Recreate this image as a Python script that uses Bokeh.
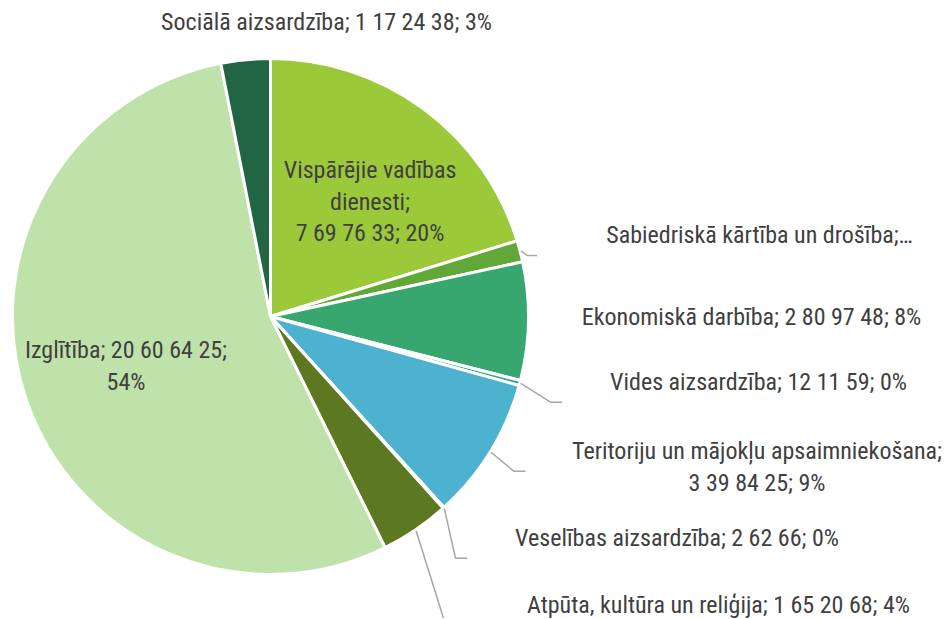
import math
from bokeh.plotting import figure
from bokeh.models import Range1d, ColumnDataSource
from bokeh.core.properties import value
from bokeh.embed import file_html
from bokeh.resources import INLINE

# ---- data (clockwise from 12 o'clock) ----
categories = [
    "Vispārējie vadības dienesti",
    "Sabiedriskā kārtība un drošība",
    "Ekonomiskā darbība",
    "Vides aizsardzība",
    "Teritoriju un mājokļu apsaimniekošana",
    "Veselības aizsardzība",
    "Atpūta, kultūra un reliģija",
    "Izglītība",
    "Sociālā aizsardzība",
]
amounts = [7697633, 507000, 2809748, 121159, 3398425, 26266, 1652068, 20606425, 1172438]
percent_labels = ["20%", "", "8%", "0%", "9%", "0%", "4%", "54%", "3%"]
colors = ["#9BC93A", "#62A839", "#38A76F", "#35A58C", "#4DB2D0", "#6E8F2E", "#5C7921", "#BFE2AA", "#216545"]

W, H = 946, 618
PAGE_H = 619
FONT = "Roboto Condensed"
TXT = "#404040"
BASE_FIX = 9  # renderer places alphabetic baseline slightly lower


def py(y):  # page y -> data y
    return PAGE_H - y


def grp(n):
    s = str(n)
    parts = []
    while len(s) > 2:
        parts.insert(0, s[-2:])
        s = s[:-2]
    parts.insert(0, s)
    return " ".join(parts)


p = figure(width=W, height=H, x_range=Range1d(0, W), y_range=Range1d(PAGE_H - H, PAGE_H),
           output_backend="svg", toolbar_location=None, min_border=0)
p.axis.visible = False
p.grid.visible = False
p.outline_line_color = None
p.background_fill_color = "white"

cx, cy, R = 270, py(316), 258
total = sum(amounts)
starts, ends, mids = [], [], []
acc = 0.0
for a in amounts:
    s = math.pi / 2 - acc / total * 2 * math.pi
    acc += a
    e = math.pi / 2 - acc / total * 2 * math.pi
    starts.append(s)
    ends.append(e)
    mids.append((s + e) / 2)

src = ColumnDataSource(dict(start=starts, end=ends, color=colors, cat=categories))
p.wedge(x=cx, y=cy, radius=R, start_angle="start", end_angle="end", direction="clock",
        fill_color="color", line_color="white", line_width=3, source=src)

# ---- leader lines (start on slice edge at mid-angle) ----
leader_idx = [1, 3, 4, 5, 6]
leader_tail = {  # elbow and end, page coords (layout)
    1: [(526.7, 255), (536.7, 255)],
    3: [(550, 401.7), (561.7, 401.7)],
    4: [(513.3, 470.7), (525, 470.7)],
    5: [(455, 557.7), (466.7, 557.7)],
    6: [(447.5, 632), (460, 632)],
}
xs, ys = [], []
for i in leader_idx:
    x0 = cx + (R + 1) * math.cos(mids[i])
    y0 = cy + (R + 1) * math.sin(mids[i])
    xx = [x0] + [t[0] for t in leader_tail[i]]
    yy = [y0] + [py(t[1]) for t in leader_tail[i]]
    xs.append(xx)
    ys.append(yy)
p.multi_line(xs=xs, ys=ys, line_color="#A6A6A6", line_width=1.5)

# ---- labels ----
full = [f"{c}; {grp(a)}; {pc}" for c, a, pc in zip(categories, amounts, percent_labels)]
label_lines = {
    0: ["Vispārējie vadības", "dienesti;", f"{grp(amounts[0])}; {percent_labels[0]}"],
    1: [f"{categories[1]};…"],
    2: [full[2]],
    3: [full[3]],
    4: [f"{categories[4]};", f"{grp(amounts[4])}; {percent_labels[4]}"],
    5: [full[5]],
    6: [full[6]],
    7: [f"{categories[7]}; {grp(amounts[7])};", percent_labels[7]],
    8: [full[8]],
}
label_pos = {  # centre x, first baseline y (page coords)
    0: (369.5, 178.5),
    1: (759, 243.5),
    2: (751, 325),
    3: (758, 390),
    4: (756.5, 459.5),
    5: (676.5, 546),
    6: (718, 613.5),
    7: (125.5, 358.5),
    8: (326, 30.5),
}
LINE = 31.5
tx, ty, tt = [], [], []
for i, lines in label_lines.items():
    x, y0 = label_pos[i]
    for k, ln in enumerate(lines):
        tx.append(x)
        ty.append(py(y0 + k * LINE - BASE_FIX))
        tt.append(ln)
p.text(x=tx, y=ty, text=tt, text_font=value(FONT), text_font_size="24px", text_color=TXT,
       text_align="center", text_baseline="alphabetic")

open("out.html", "w").write(file_html(p, INLINE))
